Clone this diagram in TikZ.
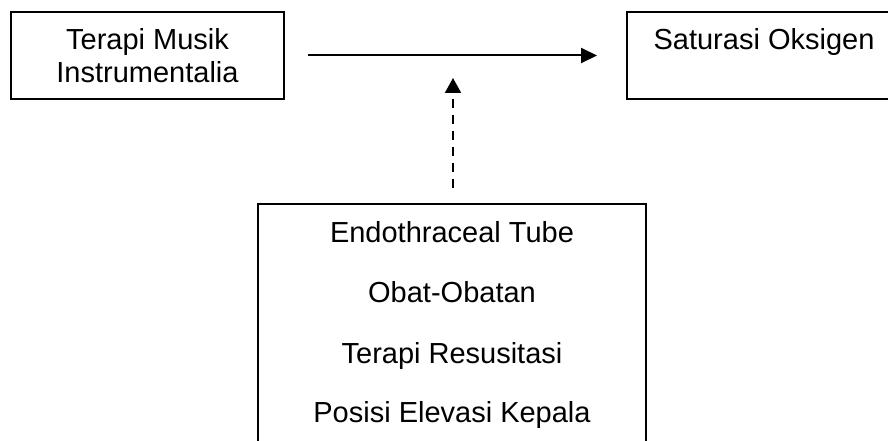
\documentclass[tikz,border=0pt]{standalone}
\usepackage{fontspec}
\setmainfont{Liberation Sans}
\usetikzlibrary{arrows.meta}
\tikzset{
  box/.style={draw=black, line width=2pt, inner sep=0pt, fill=none},
  txt/.style={anchor=base, inner sep=0pt, font=\fontsize{29}{33}\selectfont},
  arr/.style={line width=2pt, -{Triangle[length=16pt,width=15pt]}},
  dasharr/.style={line width=2pt, dash pattern=on 9pt off 7pt, -{Triangle[length=15pt,width=16pt]}}
}
\begin{document}
\begin{tikzpicture}[x=1pt,y=-1pt]
\clip (0,0) rectangle (888,441);
\fill[white] (0,0) rectangle (888,441);
% boxes
\node (t) [box, minimum width=273pt, minimum height=87pt] at (147.5,55.5) {};
\node (s) [box, minimum width=274pt, minimum height=87pt] at (764,55.5) {};
\node (f) [box, anchor=north, minimum width=388pt, minimum height=300pt] at (452,203) {};
% texts
\node (t1) [txt] at (147.5,50) {Terapi Musik};
\node (t2) [txt] at (147.5,83) {Instrumentalia};
\node (s1) [txt] at (764,50) {Saturasi Oksigen};
\node (f1) [txt] at (452,242) {Endothraceal Tube};
\node (f2) [txt] at (452,302) {Obat-Obatan};
\node (f3) [txt] at (452,363) {Terapi Resusitasi};
\node (f4) [txt] at (452,422) {Posisi Elevasi Kepala};
% connectors
\draw[arr, shorten <=23pt, shorten >=29pt] (t.east) -- (s.west);
\coordinate (m) at (453,56);
\draw[dasharr, shorten <=15pt, shorten >=22pt] (f.north -| m) -- (m);
\end{tikzpicture}
\end{document}
